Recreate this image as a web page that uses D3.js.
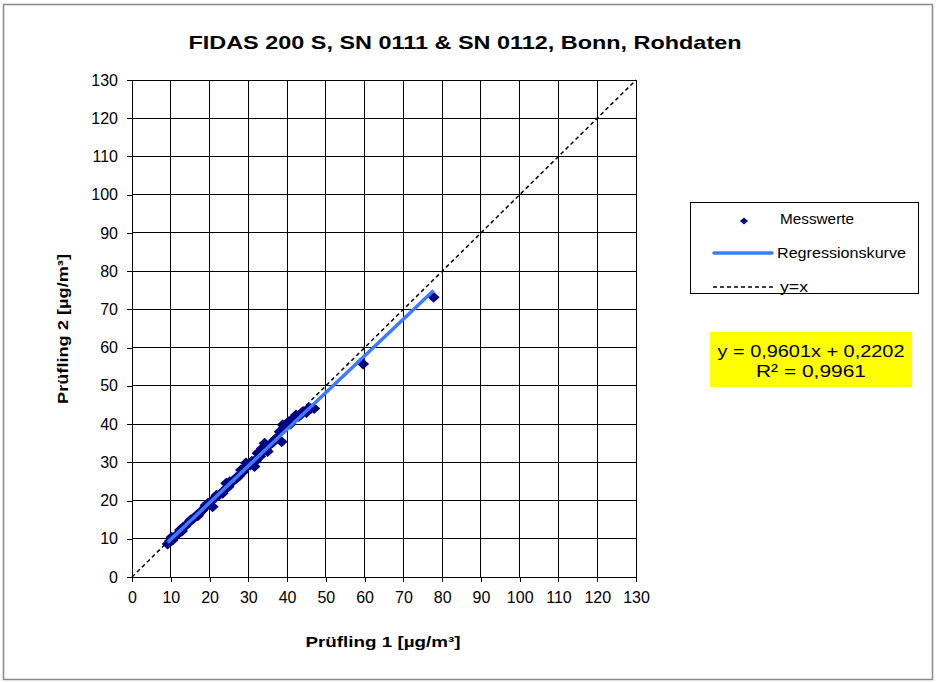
<!DOCTYPE html>
<html><head><meta charset="utf-8">
<script src="https://cdn.jsdelivr.net/npm/d3@7"></script>
<style>body{margin:0;background:#fff}svg{display:block;font-family:"Liberation Sans",Arial,sans-serif}</style>
</head><body><svg id="c" width="938" height="682"></svg>
<script>
const titleText = "FIDAS 200 S, SN 0111 & SN 0112, Bonn, Rohdaten";
const xLabel = "Prüfling 1 [µg/m³]";
const yLabel = "Prüfling 2 [µg/m³]";
const ticks = [0,10,20,30,40,50,60,70,80,90,100,110,120,130];
const legendLabels = ["Messwerte","Regressionskurve","y=x"];
const slope = 0.9601, intercept = 0.2202;
const eqLines = ["y = 0,9601x + 0,2202","R² = 0,9961"];
const xVals = [9.2,9.8,10.5,11.3,12.4,12.9,13.6,14.5,15.2,16.0,16.8,17.4,18.1,18.8,19.6,20.3,20.8,21.3,22.0,22.6,23.4,24.3,24.9,25.6,26.4,27.0,27.6,28.1,28.7,29.4,30.2,30.9,31.6,32.4,33.1,33.8,34.2,35.0,35.5,36.3,37.2,38.1,38.6,38.9,39.7,40.4,41.2,42.3,43.0,44.1,45.0,46.1,47.0,59.6,77.8,
  10.2,12.0,13.1,14.9,17.0,19.0,21.8,23.9,25.2,26.9,29.0,30.5,32.0,33.5,34.6,36.8,39.3,40.9,43.6,45.6];
const yVals = [8.6,9.4,9.7,10.8,12.3,12.0,13.2,14.1,15.0,15.4,16.3,16.7,17.4,18.2,19.3,19.6,18.4,20.6,21.2,21.6,21.9,24.5,23.6,24.7,25.4,25.8,26.4,28.0,27.5,29.8,29.4,30.3,28.9,32.4,31.6,32.9,35.0,32.8,34.6,35.2,36.3,38.0,35.4,39.8,39.6,40.6,41.1,42.4,42.0,43.3,43.0,44.1,44.1,55.7,73.2,
  10.4,11.4,12.9,14.6,16.0,18.8,21.4,22.8,24.9,26.0,28.6,29.3,30.4,33.6,33.4,35.9,39.2,40.0,42.6,44.2];

const svg = d3.select("#c");
svg.append("rect").attr("x",3.5).attr("y",4.5).attr("width",929).attr("height",675)
  .attr("fill","#fff").attr("stroke","#888").attr("stroke-width",1.5);

const x = d3.scaleLinear().domain([0,130]).range([132,636]);
const y = d3.scaleLinear().domain([0,130]).range([577,80]);

svg.append("text").attr("x",465).attr("y",49).attr("text-anchor","middle")
  .attr("font-size",19).attr("font-weight","bold")
  .attr("textLength",553).attr("lengthAdjust","spacingAndGlyphs").text(titleText);

const g = svg.append("g");
g.selectAll(".gx").data(ticks).join("line")
  .attr("x1",d=>x(d)).attr("x2",d=>x(d)).attr("y1",y(0)).attr("y2",y(130))
  .attr("stroke","#000").attr("stroke-width",1).attr("shape-rendering","crispEdges");
g.selectAll(".gy").data(ticks).join("line")
  .attr("y1",d=>y(d)).attr("y2",d=>y(d)).attr("x1",x(0)).attr("x2",x(130))
  .attr("stroke","#000").attr("stroke-width",1).attr("shape-rendering","crispEdges");

const xAxis = d3.axisBottom(x).tickValues(ticks).tickSize(5).tickPadding(10);
const yAxis = d3.axisLeft(y).tickValues(ticks).tickSize(5).tickPadding(9);
const ax = svg.append("g").attr("transform",`translate(0,${y(0)})`).call(xAxis);
const ay = svg.append("g").attr("transform",`translate(${x(0)},0)`).call(yAxis);
[ax,ay].forEach(a=>{
  a.select(".domain").attr("stroke","#000").attr("shape-rendering","crispEdges");
  a.selectAll(".tick line").attr("stroke","#000").attr("shape-rendering","crispEdges");
  a.selectAll("text").attr("font-size",16).attr("fill","#000").attr("font-family","Liberation Sans, Arial, sans-serif");
});

const lineGen = d3.line().x(d=>x(d[0])).y(d=>y(d[1]));
svg.append("path").attr("d",lineGen([[0,0],[130,130]])).attr("fill","none")
  .attr("stroke","#000").attr("stroke-width",1.5).attr("stroke-dasharray","4,3");

const pts = xVals.map((v,i)=>[v,yVals[i]]);
const diamondType = {draw(ctx){const w=6,h=5.5;ctx.moveTo(0,-h);ctx.lineTo(w,0);ctx.lineTo(0,h);ctx.lineTo(-w,0);ctx.closePath();}};
svg.append("g").selectAll("path").data(pts).join("path")
  .attr("d",d3.symbol().type(diamondType)).attr("transform",d=>`translate(${x(d[0])},${y(d[1])})`)
  .attr("fill","#000080");

const xmin = d3.min(xVals), xmax = d3.max(xVals);
svg.append("path").attr("d",lineGen([[xmin,slope*xmin+intercept],[xmax,slope*xmax+intercept]]))
  .attr("fill","none").attr("stroke","#3a7bff").attr("stroke-width",3.5);

svg.append("text").attr("x",383).attr("y",647).attr("text-anchor","middle")
  .attr("font-size",15).attr("font-weight","bold")
  .attr("textLength",155).attr("lengthAdjust","spacingAndGlyphs").text(xLabel);
svg.append("text").attr("transform","translate(68,329) rotate(-90)").attr("text-anchor","middle")
  .attr("font-size",15).attr("font-weight","bold")
  .attr("textLength",150).attr("lengthAdjust","spacingAndGlyphs").text(yLabel);

const lg = svg.append("g");
lg.append("rect").attr("x",690.5).attr("y",202.5).attr("width",228).attr("height",91)
  .attr("fill","#fff").attr("stroke","#000").attr("stroke-width",1);
const ly = [219,253,287];
const smallDiamond = {draw(ctx){ctx.moveTo(0,-3.5);ctx.lineTo(4,0);ctx.lineTo(0,3.5);ctx.lineTo(-4,0);ctx.closePath();}};
lg.append("path").attr("d",d3.symbol().type(smallDiamond)).attr("transform",`translate(744,${ly[0]+2})`).attr("fill","#000080");
lg.append("line").attr("x1",714).attr("x2",772).attr("y1",ly[1]).attr("y2",ly[1]).attr("stroke","#3a7bff").attr("stroke-width",3.5).attr("stroke-linecap","round");
lg.append("line").attr("x1",713).attr("x2",775).attr("y1",ly[2]).attr("y2",ly[2]).attr("stroke","#000").attr("stroke-width",1.5).attr("stroke-dasharray","4,3");
const legLens = [74,129,28];
lg.selectAll("text.l").data(legendLabels).join("text")
  .attr("x",(d,i)=> i===0?780:(i===1?777:780)).attr("y",(d,i)=>ly[i]+5).attr("font-size",14)
  .attr("textLength",(d,i)=>legLens[i]).attr("lengthAdjust","spacingAndGlyphs").text(d=>d);

svg.append("rect").attr("x",710).attr("y",332).attr("width",202).attr("height",55).attr("fill","#ffff00");
const eqLens = [187,110];
svg.selectAll("text.eq").data(eqLines).join("text")
  .attr("x",811).attr("y",(d,i)=>357+i*20).attr("text-anchor","middle").attr("font-size",17)
  .attr("textLength",(d,i)=>eqLens[i]).attr("lengthAdjust","spacingAndGlyphs").text(d=>d);
</script></body></html>
